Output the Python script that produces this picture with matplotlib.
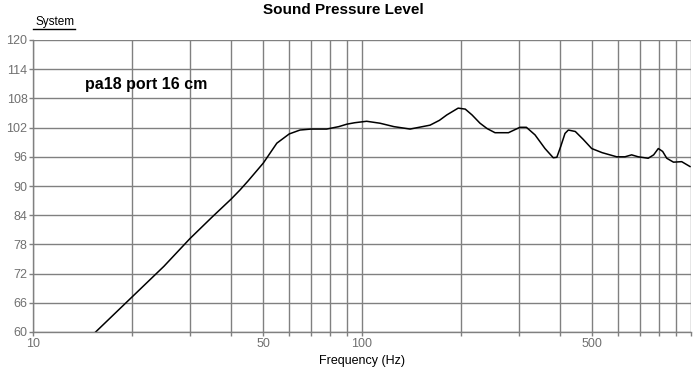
import matplotlib.pyplot as plt
from matplotlib.ticker import FixedLocator, NullFormatter, FixedFormatter

# frequency response
freq = [15.5, 20, 25, 30, 35, 40, 42.6, 45, 50.1, 55.1, 60.1, 64.8, 70, 78.1,
        85, 89.9, 95, 103.3, 113.4, 125, 140, 161, 172, 181, 196, 206, 216,
        228.4, 240, 253.7, 278.7, 302, 316, 335.7, 359.9, 381.4, 391, 401.7,
        414, 423.8, 445, 470, 499, 537, 594.5, 630, 660, 691, 741, 770, 795.5,
        820, 844, 884.5, 937, 993]
spl = [60, 67.2, 73.5, 79.2, 83.6, 87.3, 89.2, 91.0, 94.7, 98.8, 100.7, 101.5,
       101.7, 101.7, 102.2, 102.7, 103.0, 103.3, 102.9, 102.2, 101.7, 102.5,
       103.5, 104.6, 106.0, 105.8, 104.6, 102.9, 101.8, 100.95, 100.95, 102.06,
       102.06, 100.5, 97.7, 95.8, 95.9, 98.1, 100.8, 101.5, 101.2, 99.6, 97.7,
       96.85, 96.0, 96.0, 96.4, 96.0, 95.7, 96.4, 97.7, 97.1, 95.7, 94.9,
       95.0, 94.0]

x_grid = [10, 20, 30, 40, 50, 60, 70, 80, 90, 100, 200, 300, 400, 500,
          600, 700, 800, 900, 1000]
x_labels = ['10', '', '', '', '50', '', '', '', '', '100', '', '', '', '500',
            '', '', '', '', '']
y_ticks = [60, 66, 72, 78, 84, 90, 96, 102, 108, 114, 120]

grid_col = '#808080'
plt.rcParams['font.family'] = ['Liberation Sans', 'DejaVu Sans']

fig = plt.figure(figsize=(6.97, 3.69), dpi=100)
ax = fig.add_axes([33 / 697, 1 - 332 / 369, 658 / 697, 292 / 369])

ax.plot(freq, spl, color='black', lw=1.1)

ax.set_xscale('log')
ax.set_xlim(10, 1000)
ax.set_ylim(60, 120)
ax.xaxis.set_major_locator(FixedLocator(x_grid))
ax.xaxis.set_major_formatter(FixedFormatter(x_labels))
ax.xaxis.set_minor_locator(FixedLocator([]))
ax.xaxis.set_minor_formatter(NullFormatter())
ax.set_yticks(y_ticks)
ax.set_yticklabels([str(v) for v in y_ticks])

ax.grid(True, color=grid_col, lw=1)
for s in ax.spines.values():
    s.set_color(grid_col)
    s.set_linewidth(1)
ax.spines['top'].set_visible(False)
ax.spines['right'].set_visible(False)
ax.tick_params(axis='both', colors=grid_col, labelcolor='#707070', length=3,
               width=1, labelsize=9, pad=1)

ax.set_xlabel('Frequency (Hz)', fontsize=9, labelpad=4)

fig.text(343 / 697, 1 - 10 / 369, 'Sound Pressure Level', ha='center',
         va='center', fontsize=11, fontweight='bold')
fig.text(36 / 697, 1 - 22 / 369, 'System', ha='left', va='center', fontsize=8.5)
fig.add_artist(plt.Line2D([33 / 697, 75 / 697], [1 - 29 / 369, 1 - 29 / 369],
                          color='black', lw=1))
ax.text((85 - 33) / 658, (332 - 84) / 292, 'pa18 port 16 cm',
        transform=ax.transAxes, fontsize=11.5, fontweight='bold', va='center')

fig.savefig('out.png', dpi=100)
